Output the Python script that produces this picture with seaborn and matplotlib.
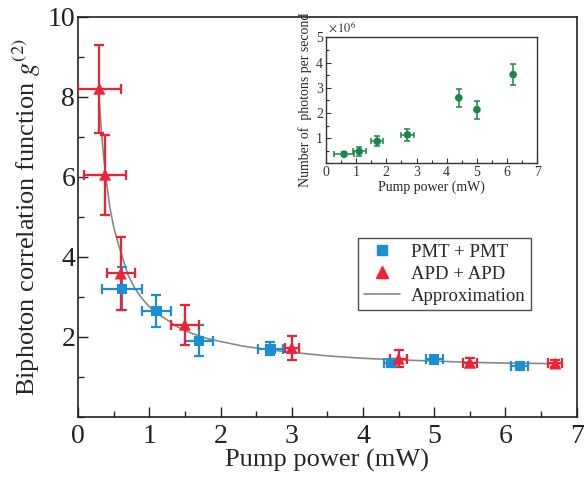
import numpy as np
import pandas as pd
import matplotlib
matplotlib.use('Agg')
import matplotlib.pyplot as plt
from matplotlib.ticker import MultipleLocator, FixedLocator
from matplotlib.lines import Line2D
import seaborn as sns

# PMT + PMT (blue squares)
pmt_x = [0.62, 1.1, 1.7, 2.7, 4.4, 5.0, 6.2]
pmt_y = [3.2, 2.65, 1.9, 1.7, 1.35, 1.43, 1.27]
pmt_xerr = [0.28, 0.2, 0.2, 0.18, 0.1, 0.12, 0.12]
pmt_yerr = [0.53, 0.4, 0.38, 0.17, 0.1, 0.08, 0.06]

# APD + APD (red triangles)
apd_x = [0.3, 0.38, 0.6, 1.5, 3.0, 4.5, 5.5, 6.7]
apd_y = [8.2, 6.05, 3.58, 2.3, 1.72, 1.45, 1.35, 1.33]
apd_xerr = [0.3, 0.3, 0.2, 0.2, 0.1, 0.12, 0.1, 0.1]
apd_yerr = [1.1, 1.0, 0.92, 0.5, 0.3, 0.22, 0.12, 0.08]

# approximation curve
fit_x = [0.30, 0.33, 0.36, 0.40, 0.45, 0.50, 0.56, 0.63, 0.70, 0.80, 0.90, 1.0, 1.1,
         1.25, 1.4, 1.6, 1.8, 2.0, 2.3, 2.6, 3.0, 3.5, 4.0, 4.5, 5.0, 5.5, 6.0, 6.5, 6.75]
fit_y = [7.85, 7.1, 6.5, 5.85, 5.2, 4.75, 4.35, 3.95, 3.55, 3.2, 2.95, 2.75, 2.6,
         2.42, 2.24, 2.08, 1.96, 1.88, 1.77, 1.69, 1.61, 1.52, 1.46, 1.42, 1.39, 1.36, 1.34, 1.33, 1.32]

# inset: photon rate (x 10^6)
rate_x = [0.6, 1.1, 1.7, 2.7, 4.4, 5.0, 6.2]
rate_y = [0.36, 0.47, 0.87, 1.13, 2.6, 2.13, 3.52]
rate_xerr = [0.33, 0.22, 0.2, 0.21, 0.0, 0.0, 0.0]
rate_yerr = [0.08, 0.19, 0.2, 0.25, 0.36, 0.36, 0.41]

blue = '#1b8fd6'
red = '#ee2233'
green = '#17884a'
gray = '#888888'

sns.set_style('ticks')
plt.rcParams['font.family'] = ['Liberation Serif', 'DejaVu Serif']
plt.rcParams['mathtext.fontset'] = 'stix'

fig = plt.figure(figsize=(5.84, 4.82), dpi=100)
ax = fig.add_axes([0.1336, 0.1355, 0.8539, 0.8299])

fit = pd.DataFrame({'x': fit_x, 'y': fit_y})
sns.lineplot(data=fit, x='x', y='y', sort=False, color=gray, lw=1.2, ax=ax, zorder=2)

ax.errorbar(pmt_x, pmt_y, xerr=pmt_xerr, yerr=pmt_yerr, fmt='none', ecolor=blue,
            elinewidth=1.6, capsize=3.5, capthick=1.6, zorder=3)
ax.errorbar(apd_x, apd_y, xerr=apd_xerr, yerr=apd_yerr, fmt='none', ecolor=red,
            elinewidth=1.6, capsize=3.5, capthick=1.6, zorder=4)
sns.scatterplot(x=pmt_x, y=pmt_y, marker='s', color=blue, s=55, edgecolor='none', ax=ax, zorder=5)
sns.scatterplot(x=apd_x, y=apd_y, marker='^', color=red, s=75, edgecolor='none', ax=ax, zorder=6)

ax.set_xlim(0, 7)
ax.set_ylim(0, 10)
ax.xaxis.set_major_locator(MultipleLocator(1))
ax.xaxis.set_minor_locator(MultipleLocator(0.5))
ax.yaxis.set_major_locator(FixedLocator([2, 4, 6, 8, 10]))
ax.yaxis.set_minor_locator(MultipleLocator(1))
ax.tick_params(which='major', direction='in', length=7, width=1, labelsize=20, colors='#222222')
ax.tick_params(axis='x', which='major', pad=5)
ax.tick_params(axis='y', which='major', pad=2)
ax.tick_params(which='minor', direction='in', length=4, width=1)
for s in ax.spines.values():
    s.set_visible(True)
    s.set_linewidth(1.2)
    s.set_color('#222222')
ax.set_xlabel('Pump power (mW)', fontsize=19, labelpad=0)
ax.set_ylabel('Biphoton correlation function $g^{(2)}$', fontsize=19, labelpad=3)

handles = [Line2D([], [], ls='none', marker='s', color=blue, markersize=7),
           Line2D([], [], ls='none', marker='^', color=red, markersize=8.5),
           Line2D([], [], color=gray, lw=1.2)]
leg = ax.legend(handles, ['PMT + PMT', 'APD + APD', 'Approximation'], loc='upper left',
                bbox_to_anchor=(0.562, 0.446), fontsize=13.5, frameon=True, fancybox=False,
                handlelength=1.9, handletextpad=0.6, borderpad=0.3, labelspacing=0.25,
                borderaxespad=0)
leg.get_frame().set_edgecolor('#222222')
leg.get_frame().set_linewidth(1.0)

# inset
ins = fig.add_axes([0.5582, 0.6612, 0.3618, 0.2614])
ins.errorbar(rate_x, rate_y, xerr=rate_xerr, yerr=rate_yerr, fmt='none', ecolor=green,
             elinewidth=1.1, capsize=2, capthick=1.1)
sns.scatterplot(x=rate_x, y=rate_y, marker='o', color=green, s=30, edgecolor='none', ax=ins, zorder=3)
ins.set_xlim(0, 7)
ins.set_ylim(0, 5)
ins.xaxis.set_major_locator(MultipleLocator(1))
ins.xaxis.set_minor_locator(MultipleLocator(0.5))
ins.yaxis.set_major_locator(FixedLocator([1, 2, 3, 4, 5]))
ins.yaxis.set_minor_locator(MultipleLocator(0.5))
ins.tick_params(which='major', direction='in', length=3.5, width=0.8, labelsize=10, pad=2, colors='#333333')
ins.tick_params(which='minor', direction='in', length=2, width=0.8)
for s in ins.spines.values():
    s.set_visible(True)
    s.set_linewidth(1.0)
    s.set_color('#333333')
ins.set_xlabel('Pump power (mW)', fontsize=10, labelpad=1)
ins.set_ylabel('Number of  photons per second', fontsize=10, labelpad=3)
ins.text(0.01, 1.01, r'$\times\,10^6$', transform=ins.transAxes, fontsize=9,
         va='bottom', ha='left', color='#333333')

fig.savefig('out.png', dpi=100)
